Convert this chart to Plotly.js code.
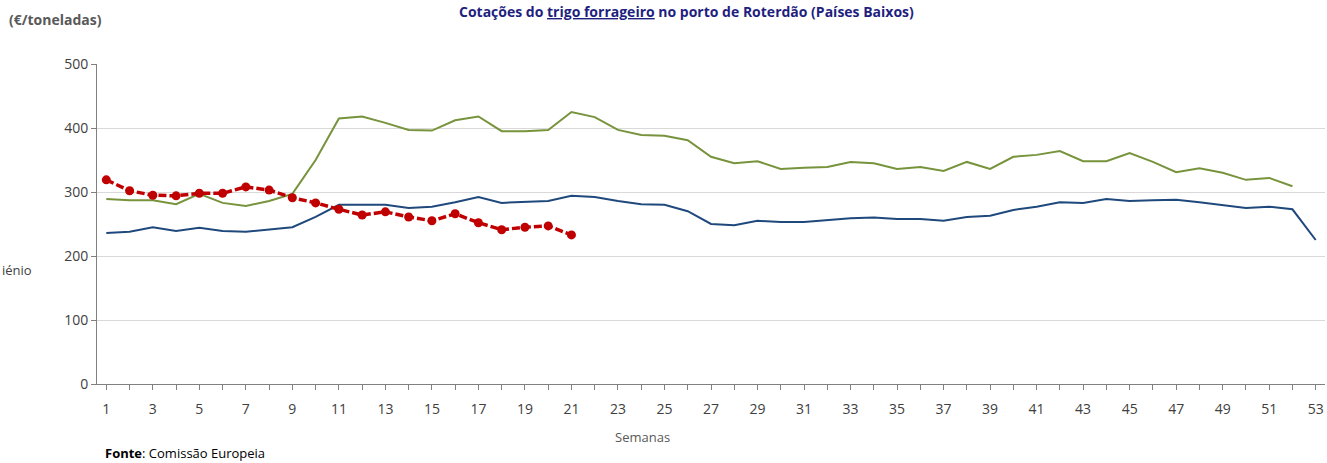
<!DOCTYPE html>
<html><head><meta charset="utf-8">
<script src="https://cdn.plot.ly/plotly-3.0.1.min.js"></script>
<style>body{margin:0}</style></head><body>
<div id="c" style="width:1327px;height:463px"></div>
<script>
const weeks = Array.from({length:53},(_,i)=>i+1);
const serieVerde = [289,287,287,281,297,283,278,286,297,350,415,418,408,397,396,412,418,395,395,397,425,417,397,389,388,381,355,345,348,336,338,339,347,345,336,339,333,347,336,355,358,364,348,348,361,347,331,337,330,319,322,309];
const serieAzul = [236,238,245,239,244,239,238,241,245,261,280,280,280,275,277,284,292,283,284,286,294,292,286,281,280,270,250,248,255,253,253,256,259,260,258,258,255,261,263,272,277,284,283,289,286,287,288,284,280,275,277,273,225];
const serieVermelha = [319,302,295,294,298,298,308,303,291,283,273,264,269,261,255,266,252,241,245,247,233];
const tickVals = weeks.filter(w=>w%2===1);

const traces = [
 {x:weeks.slice(0,serieVerde.length), y:serieVerde, mode:'lines', line:{color:'#77933C',width:2}, name:'verde'},
 {x:weeks, y:serieAzul, mode:'lines', line:{color:'#1F497D',width:2}, name:'azul'},
 {x:weeks.slice(0,serieVermelha.length), y:serieVermelha, mode:'lines+markers', line:{color:'#C00000',width:3.5,dash:'8px,3px'}, marker:{color:'#C00000',size:9}, name:'vermelha'}
];
const layout = {
 width:1327, height:463, showlegend:false,
 margin:{l:97,r:2,t:64,b:79},
 paper_bgcolor:'#fff', plot_bgcolor:'#fff',
 font:{family:'Open Sans, Calibri, sans-serif', size:14, color:'#404040'},
 xaxis:{range:[0.6,53.4], tickvals:tickVals, ticktext:tickVals.map(String), showgrid:false, zeroline:false,
   showline:true, linecolor:'#808080', ticks:'', ticklabelstandoff:12, tickfont:{size:14,color:'#404040'},
   minor:{dtick:1, ticks:'outside', ticklen:5, tickcolor:'#808080'}},
 yaxis:{range:[0,500], dtick:100, showgrid:true, gridcolor:'#D9D9D9', zeroline:false, showline:true, linecolor:'#808080',
   ticks:'outside', ticklen:5, tickcolor:'#808080', tickfont:{size:14,color:'#404040'}},
 annotations:[
  {text:'<b>(€/toneladas)</b>', xref:'paper', yref:'paper', x:-0.073, y:1.175, xanchor:'left', showarrow:false, font:{size:14,color:'#595959'}},
  {text:'<b>Cotações do <u>trigo forrageiro</u> no porto de Roterdão (Países Baixos)</b>', xref:'paper', yref:'paper', x:0.48, y:1.2, yanchor:'top', showarrow:false, font:{size:14,color:'#1F1F7F'}},
  {text:'iénio', xref:'paper', yref:'paper', x:-0.079, y:0.355, xanchor:'left', showarrow:false, font:{size:13,color:'#404040'}},
  {text:'Semanas', xref:'paper', yref:'paper', x:0.444, y:-0.2, showarrow:false, font:{size:13,color:'#595959'}},
  {text:'<b>Fonte</b>: Comissão Europeia', xref:'paper', yref:'paper', x:0.0047, y:-0.25, xanchor:'left', showarrow:false, font:{size:13,color:'#000'}}
 ]
};
Plotly.newPlot('c', traces, layout, {displayModeBar:false, staticPlot:true});
</script></body></html>
